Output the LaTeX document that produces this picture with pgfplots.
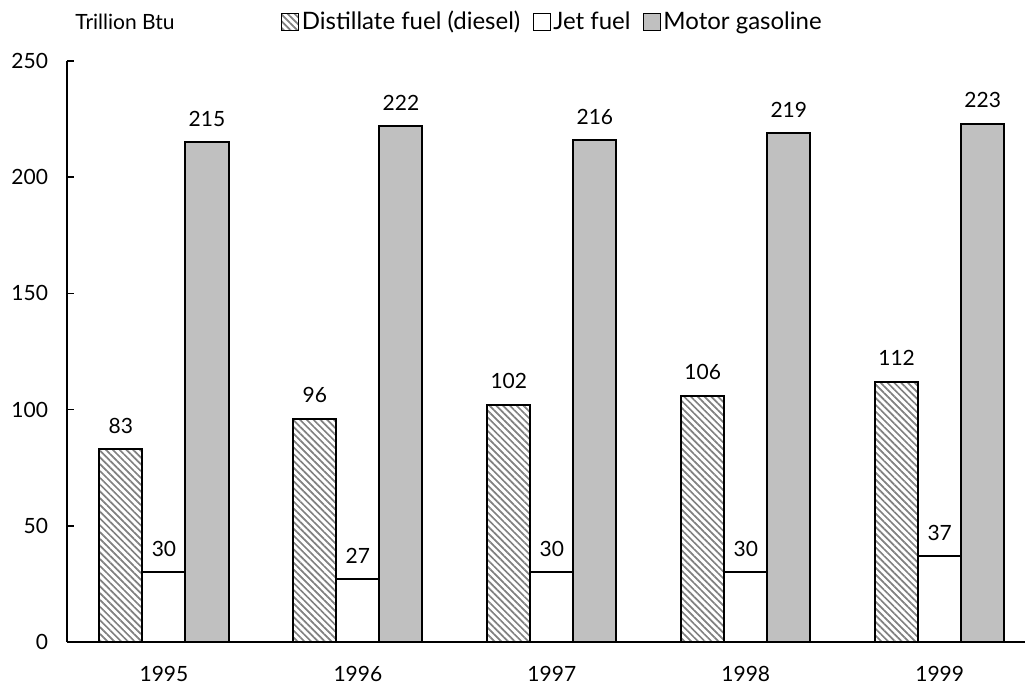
\documentclass[border=0pt]{standalone}
\usepackage{fontspec}
\setmainfont{Lato}
\usepackage{pgfplots}
\pgfplotsset{compat=1.18}
\usetikzlibrary{patterns.meta}
\definecolor{gasgray}{RGB}{192,192,192}
\definecolor{hatchgray}{RGB}{128,128,128}

\begin{document}
\begin{tikzpicture}
\begin{axis}[
    at={(0pt,0pt)}, anchor=south west,
    scale only axis,
    width=479pt, height=290.5pt,
    font=\fontsize{10.5}{12}\selectfont,
    /pgf/number format/assume math mode=true,
    axis x line=bottom, axis y line=left,
    axis line style={-, line width=0.7pt},
    xmin=-0.5, xmax=4.44,
    ymin=0, ymax=250,
    ytick={0,50,...,250},
    xtick={0,...,4},
    xticklabels={1995,1996,1997,1998,1999},
    x tick style={draw=none},
    tick align=inside,
    major tick length=3.5pt,
    y tick style={line width=0.7pt, black},
    yticklabel style={xshift=-6pt},
    xticklabel style={yshift=-5pt},
    ybar, bar width=0.222,
    nodes near coords,
    every node near coord/.append style={anchor=base, yshift=8pt, font=\fontsize{10.5}{12}\selectfont},
    legend columns=3,
    legend style={draw=none, fill=none, at={(0.217,1.067)}, anchor=west,
        font=\fontsize{12}{14}\selectfont, nodes={inner sep=1.2pt},
        /tikz/every even column/.append style={column sep=5pt}},
    legend image code/.code={\draw[#1, line width=0.6pt] (0pt,-4.25pt) rectangle (8.5pt,4.25pt);},
]
\addplot[bar shift=-0.222, draw=black, line width=1pt,
    pattern={Lines[angle=-45, distance=2.4pt, line width=0.85pt]}, pattern color=hatchgray]
    coordinates {(0,83) (1,96) (2,102) (3,106) (4,112)};
\addlegendentry{Distillate fuel (diesel)}
\addplot[bar shift=0, draw=black, line width=1pt, fill=white]
    coordinates {(0,30) (1,27) (2,30) (3,30) (4,37)};
\addlegendentry{Jet fuel}
\addplot[bar shift=0.222, draw=black, line width=1pt, fill=gasgray]
    coordinates {(0,215) (1,222) (2,216) (3,219) (4,223)};
\addlegendentry{Motor gasoline}
\end{axis}
\node[anchor=west, inner sep=0pt, font=\fontsize{10.5}{12}\selectfont] at (4pt,310pt) {Trillion Btu};
\path[use as bounding box] (-33.5pt,-24pt) rectangle (479.5pt,321pt);
\end{tikzpicture}
\end{document}
